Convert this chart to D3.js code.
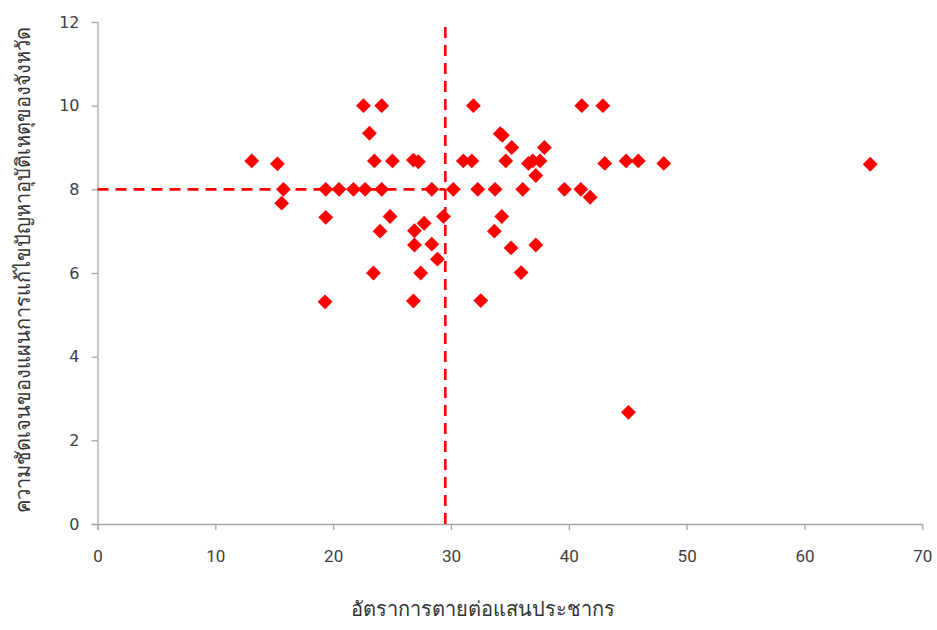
<!DOCTYPE html>
<html>
<head>
<meta charset="utf-8">
<script src="https://cdn.jsdelivr.net/npm/d3@7"></script>
<style>
  html, body { margin: 0; padding: 0; background: #fff; }
  svg { display: block; }
</style>
</head>
<body>
<svg id="chart" width="937" height="630"></svg>
<script>
// Data
const rate = [
  22.57, 24.12, 23.08, 13.09, 15.27, 23.5, 25.03, 26.81, 27.23,
  15.78, 19.37, 20.5, 21.72, 22.71, 24.12, 28.37, 30.2,
  15.63, 19.37, 24.83, 29.36, 27.72, 23.98, 26.9, 26.9, 28.37, 28.85,
  23.42, 27.43, 19.31, 26.81,
  31.9, 41.1, 42.89, 34.18, 34.36, 35.16, 37.93, 31.05, 31.77, 34.65,
  36.57, 36.94, 37.56, 37.2, 43.05, 44.86, 45.9, 48.06,
  32.27, 33.74, 36.09, 39.63, 41.02, 41.81, 34.31, 33.68, 35.1, 37.2,
  35.95, 32.53, 45.06, 65.58
];
const clarity = [
  10, 10, 9.34, 8.68, 8.61, 8.68, 8.68, 8.7, 8.66,
  8, 8, 8, 8, 8, 8, 8, 8,
  7.67, 7.33, 7.35, 7.35, 7.19, 7.0, 7.01, 6.67, 6.69, 6.33,
  6.0, 6.0, 5.31, 5.33,
  10, 10, 10, 9.33, 9.29, 9.0, 9.0, 8.68, 8.68, 8.68,
  8.62, 8.68, 8.68, 8.33, 8.62, 8.68, 8.68, 8.62,
  8, 8, 8, 8, 8, 7.81, 7.35, 7.0, 6.6, 6.67,
  6.01, 5.34, 2.67, 8.6
];
const xTicks = [0, 10, 20, 30, 40, 50, 60, 70];
const yTicks = [0, 2, 4, 6, 8, 10, 12];
const refX = 29.52;   // vertical reference line
const refY = 8;       // horizontal reference line
const xTitle = "อัตราการตายต่อแสนประชากร";
const yTitle = "ความชัดเจนของแผนการแก้ไขปัญหาอุบัติเหตุของจังหวัด";

const points = rate.map((r, i) => ({ x: r, y: clarity[i] }));

const svg = d3.select("#chart");
const mLeft = 97.5, mRight = 922.3, mTop = 22, mBottom = 524;
const x = d3.scaleLinear().domain([0, 70]).range([mLeft, mRight]);
const y = d3.scaleLinear().domain([0, 12]).range([mBottom, mTop]);
const axisColor = "#a6a6a6";
const labelFont = "'DejaVu Sans', 'Noto Sans', sans-serif";

// X axis
const gx = svg.append("g").attr("transform", `translate(0,${mBottom})`)
  .call(d3.axisBottom(x).tickValues(xTicks).tickSize(6).tickPadding(20).tickSizeOuter(0));
gx.select(".domain").attr("stroke", axisColor).attr("stroke-width", 1.3)
  .attr("d", `M${mLeft - 6},0.5H${mRight}`);
gx.selectAll(".tick line").attr("stroke", axisColor).attr("stroke-width", 1.3);
gx.selectAll(".tick text").attr("fill", "#404040").style("font-size", "17px")
  .style("font-family", "'Liberation Sans Narrow', 'Roboto', sans-serif");

// Y axis
const gy = svg.append("g").attr("transform", `translate(${mLeft},0)`)
  .call(d3.axisLeft(y).tickValues(yTicks).tickSize(6).tickPadding(12).tickSizeOuter(0));
gy.select(".domain").attr("stroke", axisColor).attr("stroke-width", 1.3)
  .attr("d", `M0.5,${mTop}V${mBottom + 6}`);
gy.selectAll(".tick line").attr("stroke", axisColor).attr("stroke-width", 1.3);
gy.selectAll(".tick text").attr("fill", "#404040").style("font-size", "16px")
  .style("font-family", labelFont);

// Reference lines
svg.append("line")
  .attr("x1", x(0)).attr("x2", x(refX))
  .attr("y1", y(refY)).attr("y2", y(refY))
  .attr("stroke", "#ff0000").attr("stroke-width", 2.6)
  .attr("stroke-dasharray", "11,7");
svg.append("line")
  .attr("x1", x(refX)).attr("x2", x(refX))
  .attr("y1", y(12)).attr("y2", y(0))
  .attr("stroke", "#ff0000").attr("stroke-width", 2.6)
  .attr("stroke-dasharray", "0,5,11,2");

// Points (diamonds)
const sym = d3.symbol().type(d3.symbolSquare).size(110);
svg.append("g").selectAll("path").data(points).join("path")
  .attr("d", sym)
  .attr("transform", d => `translate(${x(d.x)},${y(d.y)}) rotate(45)`)
  .attr("fill", "#ff0000");

// Titles
svg.append("text")
  .attr("x", 483).attr("y", 616)
  .attr("text-anchor", "middle")
  .attr("fill", "#333333")
  .style("font-size", "20px")
  .style("font-family", labelFont)
  .text(xTitle);
svg.append("text")
  .attr("transform", `translate(30,270) rotate(-90)`)
  .attr("text-anchor", "middle")
  .attr("fill", "#333333")
  .style("font-size", "20px")
  .style("font-family", labelFont)
  .text(yTitle);
</script>
</body>
</html>
